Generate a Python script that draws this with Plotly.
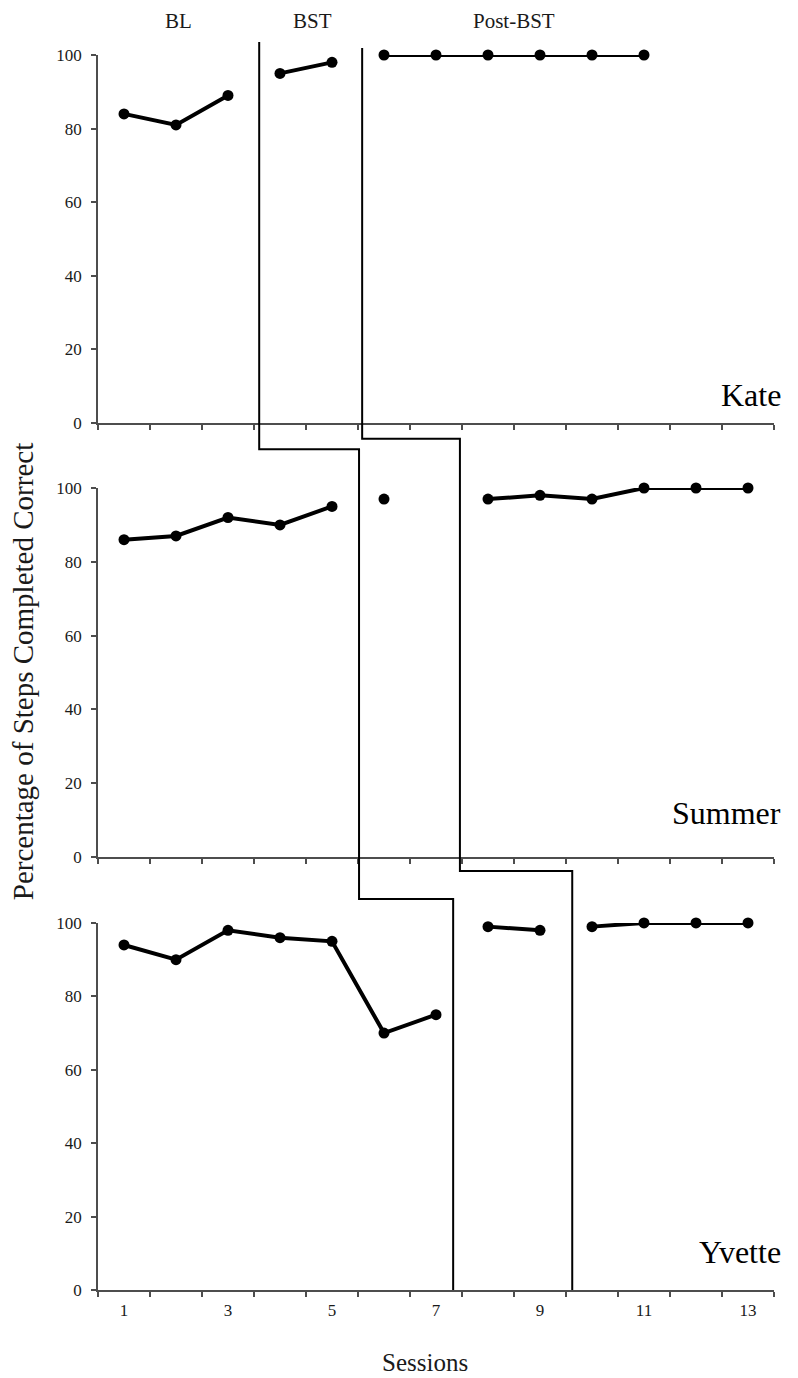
import plotly.graph_objects as go

# ---------------- data ----------------
kate_bl_x = [1, 2, 3]
kate_bl = [84, 81, 89]
kate_bst_x = [4, 5]
kate_bst = [95, 98]
kate_post_x = [6, 7, 8, 9, 10, 11]
kate_post = [100, 100, 100, 100, 100, 100]

summer_bl_x = [1, 2, 3, 4, 5]
summer_bl = [86, 87, 92, 90, 95]
summer_bst_x = [6]
summer_bst = [97]
summer_post_x = [8, 9, 10, 11, 12, 13]
summer_post = [97, 98, 97, 100, 100, 100]

yvette_bl_x = [1, 2, 3, 4, 5, 6, 7]
yvette_bl = [94, 90, 98, 96, 95, 70, 75]
yvette_bst_x = [8, 9]
yvette_bst = [99, 98]
yvette_post_x = [10, 11, 12, 13]
yvette_post = [99, 100, 100, 100]

participants = ["Kate", "Summer", "Yvette"]
phase_labels = ["BL", "BST", "Post-BST"]
phase_label_x = [2.04, 4.63, 8.5]
y_ticks = [0, 20, 40, 60, 80, 100]
x_tick_labels = [1, 3, 5, 7, 9, 11, 13]
x_tick_marks = [i + 0.5 for i in range(0, 14)]

# phase-change lines: x per panel (Kate, Summer, Yvette)
phase1_x = [3.6, 5.52, 7.33]
phase2_x = [5.58, 7.46, 9.62]
# line tops (top-panel units) and connector levels below each panel axis (panel units)
phase1_top, phase2_top = 103.5, 101.9
phase1_steps = [-7.1, -11.4]
phase2_steps = [-4.3, -3.8]

# ---------------- layout helpers ----------------
domains = [[0.702, 1.0], [0.3506, 0.6494], [0.0, 0.2972]]
FONT = "Liberation Serif, Times New Roman, serif"
AX = "#4d4d4d"


def to_paper(panel, v):
    d0, d1 = domains[panel]
    return d0 + v / 100.0 * (d1 - d0)


fig = go.Figure()

panels = [
    [(kate_bl_x, kate_bl), (kate_bst_x, kate_bst), (kate_post_x, kate_post)],
    [(summer_bl_x, summer_bl), (summer_bst_x, summer_bst), (summer_post_x, summer_post)],
    [(yvette_bl_x, yvette_bl), (yvette_bst_x, yvette_bst), (yvette_post_x, yvette_post)],
]
for i, segs in enumerate(panels):
    xa = "x" if i == 0 else f"x{i+1}"
    ya = "y" if i == 0 else f"y{i+1}"
    for xs, ys in segs:
        fig.add_trace(go.Scatter(
            x=xs, y=ys, mode="lines+markers", xaxis=xa, yaxis=ya,
            line=dict(color="black", width=4),
            marker=dict(color="black", size=11),
            cliponaxis=False, showlegend=False, hoverinfo="x+y"))


def phase_path(xs, top, steps):
    pts = [(xs[0], to_paper(0, top)),
           (xs[0], to_paper(0, steps[0])),
           (xs[1], to_paper(0, steps[0])),
           (xs[1], to_paper(1, steps[1])),
           (xs[2], to_paper(1, steps[1])),
           (xs[2], to_paper(2, 0))]
    return "M" + " L".join(f"{x},{y}" for x, y in pts)


for xs, top, steps in [(phase1_x, phase1_top, phase1_steps),
                       (phase2_x, phase2_top, phase2_steps)]:
    fig.add_shape(type="path", xref="x", yref="paper",
                  path=phase_path(xs, top, steps),
                  line=dict(color="black", width=2))

layout = dict(
    width=790, height=1370,
    margin=dict(l=90, r=24, t=47, b=88),
    plot_bgcolor="white", paper_bgcolor="white",
    font=dict(family=FONT, color="#1a1a1a", size=17),
    showlegend=False,
)
for i in range(3):
    xk = "xaxis" if i == 0 else f"xaxis{i+1}"
    yk = "yaxis" if i == 0 else f"yaxis{i+1}"
    ya = "y" if i == 0 else f"y{i+1}"
    xa = "x" if i == 0 else f"x{i+1}"
    layout[xk] = dict(
        domain=[0, 1], anchor=ya, range=[0.5, 13.5],
        showline=True, linecolor=AX, linewidth=1.5,
        showgrid=False, zeroline=False,
        tickmode="array", tickvals=x_tick_labels,
        ticktext=[str(v) for v in x_tick_labels] if i == 2 else [""] * len(x_tick_labels),
        ticks="", showticklabels=(i == 2),
        tickfont=dict(family=FONT, size=17, color="#1a1a1a"),
        ticklabelstandoff=4,
        minor=dict(tickmode="array", tickvals=x_tick_marks, ticks="outside",
                   ticklen=5, tickcolor=AX, tickwidth=1.5),
    )
    layout[yk] = dict(
        domain=domains[i], anchor=xa, range=[0, 100],
        showline=True, linecolor=AX, linewidth=1.5,
        showgrid=False, zeroline=False,
        tickmode="array", tickvals=y_ticks,
        ticks="outside", ticklen=5, tickcolor=AX, tickwidth=1.5,
        tickfont=dict(family=FONT, size=17, color="#1a1a1a"),
        ticklabelstandoff=6,
    )
fig.update_layout(**layout)

# phase labels
for lab, xv in zip(phase_labels, phase_label_x):
    fig.add_annotation(text=lab, x=xv, xref="x", y=1.0275, yref="paper",
                       showarrow=False, xanchor="center", yanchor="middle",
                       font=dict(family=FONT, size=21, color="#1a1a1a"))

# participant names
name_y = [7.6, 11.9, 10.4]
for i, (nm, yv) in enumerate(zip(participants, name_y)):
    ya = "y" if i == 0 else f"y{i+1}"
    fig.add_annotation(text=nm, x=1.0133, xref="paper", y=yv, yref=ya,
                       showarrow=False, xanchor="right", yanchor="middle",
                       font=dict(family=FONT, size=32, color="black"))

# axis titles
fig.add_annotation(text="Percentage of Steps Completed Correct", textangle=-90,
                   x=-0.111, xref="paper", y=0.501, yref="paper",
                   showarrow=False, xanchor="center", yanchor="middle",
                   font=dict(family=FONT, size=29, color="#1a1a1a"))
fig.add_annotation(text="Sessions", x=0.484, xref="paper", y=0, yref="paper",
                   yshift=-72, showarrow=False, xanchor="center", yanchor="middle",
                   font=dict(family=FONT, size=25, color="#1a1a1a"))

fig.write_html("out.html")
